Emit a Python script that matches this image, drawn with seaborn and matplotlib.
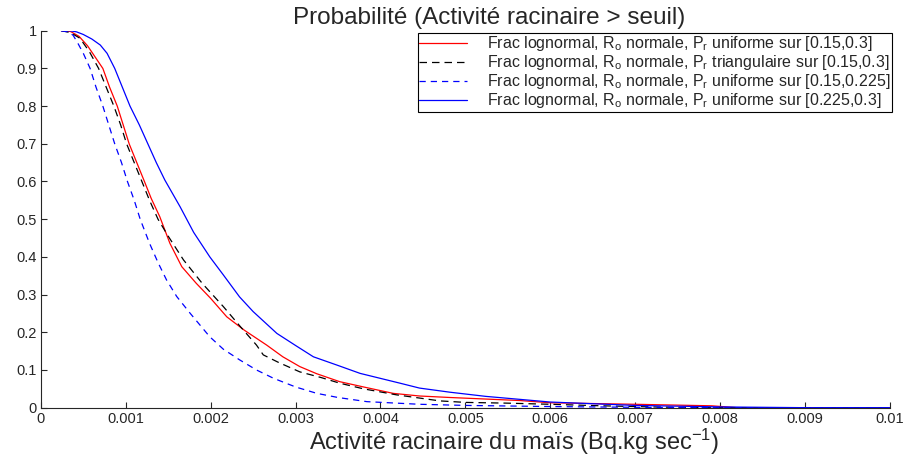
import pandas as pd
import matplotlib.pyplot as plt
import seaborn as sns

# Courbes : x = activité, p = probabilité de dépassement
x_unif = [0.00024, 0.00035, 0.00045, 0.00055, 0.00064, 0.00073, 0.00081, 0.0009, 0.00097,
          0.00104, 0.00113, 0.00122, 0.0013, 0.0014, 0.00152, 0.00166, 0.00183, 0.002,
          0.00219, 0.0024, 0.00266, 0.00285, 0.00305, 0.00325, 0.00352, 0.0038, 0.00415,
          0.00446, 0.00482, 0.00564, 0.006, 0.007, 0.0079, 0.0082, 0.01]
p_unif = [1, 0.998, 0.985, 0.96, 0.93, 0.9, 0.85, 0.8, 0.75,
          0.7, 0.65, 0.6, 0.555, 0.507, 0.436, 0.374, 0.33, 0.29,
          0.241, 0.205, 0.166, 0.135, 0.109, 0.09, 0.069, 0.055, 0.038,
          0.031, 0.027, 0.019, 0.013, 0.009, 0.005, 0.0, 0.0]

x_tri = [0.00024, 0.00035, 0.00046, 0.00057, 0.00068, 0.00077, 0.00086, 0.00094, 0.00101,
         0.0011, 0.00119, 0.00128, 0.00138, 0.0015, 0.00168, 0.0019, 0.00215, 0.00235,
         0.00254, 0.00262, 0.0028, 0.00305, 0.0033, 0.00352, 0.0038, 0.00419, 0.0047,
         0.005, 0.0055, 0.006, 0.0066, 0.0072, 0.0078, 0.01]
p_tri = [1, 0.995, 0.98, 0.945, 0.9, 0.85, 0.8, 0.75, 0.7,
         0.65, 0.6, 0.55, 0.5, 0.455, 0.392, 0.33, 0.268, 0.215,
         0.166, 0.14, 0.12, 0.095, 0.08, 0.065, 0.05, 0.034, 0.018,
         0.014, 0.012, 0.009, 0.005, 0.002, 0.0, 0.0]

x_low = [0.00024, 0.00032, 0.00038, 0.00044, 0.0005, 0.00058, 0.00065, 0.00073, 0.0008,
         0.00087, 0.00095, 0.00102, 0.0011, 0.00117, 0.00128, 0.00138, 0.00148, 0.0016,
         0.00176, 0.00199, 0.00215, 0.00234, 0.00254, 0.00274, 0.003, 0.00325, 0.0035,
         0.00384, 0.00446, 0.005, 0.006, 0.007, 0.0075, 0.01]
p_low = [1, 0.997, 0.988, 0.965, 0.94, 0.9, 0.85, 0.8, 0.75,
         0.7, 0.65, 0.6, 0.55, 0.5, 0.436, 0.385, 0.339, 0.295,
         0.25, 0.188, 0.155, 0.127, 0.1, 0.078, 0.055, 0.038, 0.027,
         0.016, 0.009, 0.006, 0.003, 0.001, 0.0, 0.0]

x_high = [0.00024, 0.00034, 0.00042, 0.0005, 0.0006, 0.0007, 0.00078, 0.00087, 0.00096,
          0.00105, 0.00116, 0.00126, 0.00136, 0.00146, 0.00164, 0.0018, 0.00199, 0.00215,
          0.00234, 0.0025, 0.00278, 0.003, 0.00321, 0.0035, 0.00376, 0.00423, 0.00446,
          0.00482, 0.00524, 0.006, 0.007, 0.008, 0.009, 0.01]
p_high = [1, 1, 0.997, 0.99, 0.978, 0.962, 0.94, 0.9, 0.85,
          0.8, 0.75, 0.7, 0.65, 0.604, 0.533, 0.465, 0.40, 0.352,
          0.294, 0.255, 0.197, 0.165, 0.135, 0.112, 0.091, 0.065, 0.052,
          0.041, 0.03, 0.015, 0.006, 0.002, 0.0, 0.0]

labels = [
    r"Frac lognormal, R$_\mathrm{o}$ normale, P$_\mathrm{r}$ uniforme sur [0.15,0.3]",
    r"Frac lognormal, R$_\mathrm{o}$ normale, P$_\mathrm{r}$ triangulaire sur [0.15,0.3]",
    r"Frac lognormal, R$_\mathrm{o}$ normale, P$_\mathrm{r}$ uniforme sur [0.15,0.225]",
    r"Frac lognormal, R$_\mathrm{o}$ normale, P$_\mathrm{r}$ uniforme sur [0.225,0.3]",
]
xticks = [0, 0.001, 0.002, 0.003, 0.004, 0.005, 0.006, 0.007, 0.008, 0.009, 0.01]
xticklabels = ["0", "0.001", "0.002", "0.003", "0.004", "0.005", "0.006", "0.007", "0.008", "0.009", "0.01"]
yticks = [0, 0.1, 0.2, 0.3, 0.4, 0.5, 0.6, 0.7, 0.8, 0.9, 1]
yticklabels = ["0", "0.1", "0.2", "0.3", "0.4", "0.5", "0.6", "0.7", "0.8", "0.9", "1"]

sns.set_style("ticks")
plt.rcParams["font.family"] = ["Liberation Sans", "DejaVu Sans"]
plt.rcParams["mathtext.fontset"] = "custom"
plt.rcParams["mathtext.rm"] = "Liberation Sans"
plt.rcParams["mathtext.it"] = "Liberation Sans:italic"

series = [
    (x_unif, p_unif, "red", "-"),
    (x_tri, p_tri, "black", (0, (6, 4))),
    (x_low, p_low, "blue", (0, (5, 4))),
    (x_high, p_high, "blue", "-"),
]

fig = plt.figure(figsize=(9.08, 4.55), dpi=100)
ax = fig.add_axes([0.045, 0.104, 0.935, 0.8285])

for (xs, ps, col, ls), lab in zip(series, labels):
    df = pd.DataFrame({"x": xs, "p": ps})
    sns.lineplot(data=df, x="x", y="p", ax=ax, color=col, linestyle=ls,
                 linewidth=0.9, label=lab, sort=False)

ax.set_xlim(0, 0.01)
ax.set_ylim(0, 1)
ax.set_xticks(xticks)
ax.set_xticklabels(xticklabels)
ax.set_yticks(yticks)
ax.set_yticklabels(yticklabels)
ax.tick_params(direction="in", length=4, labelsize=10.5, width=0.8, pad=3)
sns.despine(ax=ax)
for s in ["left", "bottom"]:
    ax.spines[s].set_linewidth(0.8)

ax.set_title("Probabilité (Activité racinaire > seuil)", fontsize=17.5, x=0.528, pad=5)
ax.set_xlabel(r"Activité racinaire du maïs (Bq.kg sec$^{-1}$)", fontsize=17)
ax.xaxis.set_label_coords(0.557, -0.05)
ax.set_ylabel("")

leg = ax.legend(loc="upper right", bbox_to_anchor=(1.002, 0.995), fontsize=11.5,
                fancybox=False, framealpha=1, edgecolor="black", borderpad=0.1,
                labelspacing=0.0, handlelength=3.0, handletextpad=1.2, borderaxespad=0)
leg.get_frame().set_linewidth(0.8)

fig.savefig("out.png", dpi=100)
